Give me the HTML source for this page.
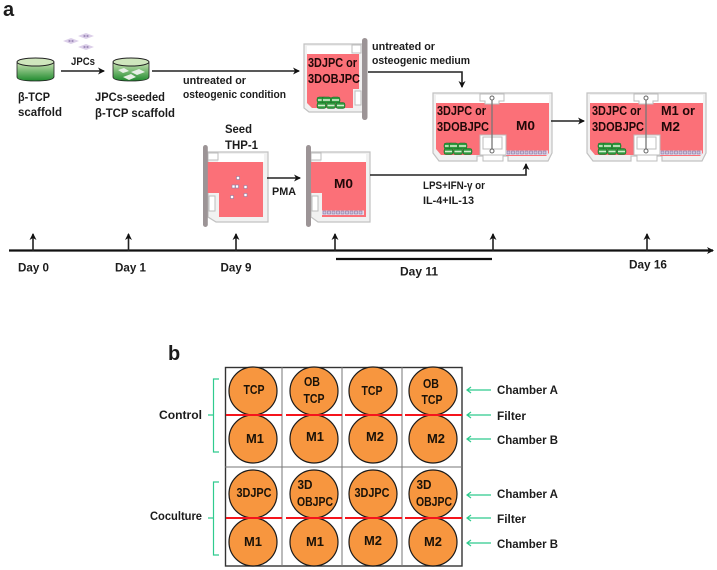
<!DOCTYPE html>
<html><head><meta charset="utf-8"><style>
html,body{margin:0;padding:0;background:#fff}
svg{display:block}
text{font-family:"Liberation Sans",sans-serif;font-weight:700;fill:#1c1c1c;font-size:11px}
.v{font-size:13px;fill:#200808}
.c{font-size:12.5px;text-anchor:middle;fill:#1a1208}
.l{fill:none;stroke:#222;stroke-width:1.6}
.w{fill:#f1f1f1;stroke:#c2c2c2;stroke-width:1.2}
.x{fill:#fff;stroke:#bdbdbd;stroke-width:1}
.p{fill:#fb7078}
.b{fill:#9c9496}
.g{stroke:#2fcb8e;stroke-width:1.2;fill:none}
</style></head><body>
<svg width="717" height="570" viewBox="0 0 717 570" xmlns="http://www.w3.org/2000/svg">
<defs>
<linearGradient id="gr" x1="0" y1="0" x2="0" y2="1"><stop offset="0" stop-color="#c3e0ae"/><stop offset="1" stop-color="#1f8a2e"/></linearGradient>
<marker id="ah" markerWidth="8" markerHeight="8" refX="6" refY="3.5" orient="auto" markerUnits="userSpaceOnUse"><path d="M0 0L7 3.5L0 7L2 3.5Z" fill="#111"/></marker>
<g id="cell"><path d="M0 3L8 0L16 3L8 6Z" fill="#dccfe9"/><circle cx="6.500" cy="3" r="1.100" fill="#a18fbb"/><circle cx="9.500" cy="3" r="1.100" fill="#a18fbb"/></g>
<g id="stack">
<g id="sc"><rect x="0" y="0" width="9" height="6" rx="2" fill="#2e9a3e" stroke="#176b25" stroke-width=".5"/><rect x="1" y="2.200" width="7" height="1.600" fill="#d5ecce"/></g>
<use href="#sc" x="5"/><use href="#sc" x="14"/><use href="#sc" x="0" y="5.500"/><use href="#sc" x="9.500" y="5.500"/><use href="#sc" x="19" y="5.500"/>
</g>
<g id="mrow"><rect x="-1" y="-.5" width="42" height="4.500" fill="#e6dcea"/><g fill="#cfc3de" stroke="#75638f" stroke-width=".5"><rect x="0" y="0" width="3" height="3"/><rect x="4.500" y="0" width="3" height="3"/><rect x="9" y="0" width="3" height="3"/><rect x="13.500" y="0" width="3" height="3"/><rect x="18" y="0" width="3" height="3"/><rect x="22.500" y="0" width="3" height="3"/><rect x="27" y="0" width="3" height="3"/><rect x="31.500" y="0" width="3" height="3"/><rect x="36" y="0" width="3" height="3"/></g></g>
<g id="dual">
<path class="w" d="M0 0H119V60L115 68H75V63H44V68H6L0 60Z"/>
<rect x="3" y="2" width="113" height="8" fill="#fff"/>
<path class="p" d="M3 10H116V60L113 63H73V42H47V62H8L3 56Z"/>
<rect x="47" y="42" width="26" height="20" class="x"/>
<rect x="50" y="44" width="19" height="12" class="x"/>
<path class="x" d="M47 1H71V8H66V11H52V8H47Z"/>
<path class="x" d="M50 62H70V68H50Z"/>
<line x1="59" y1="5" x2="59" y2="58" stroke="#777" stroke-width="1.300"/>
<circle cx="59" cy="5" r="2" fill="#fff" stroke="#666"/><circle cx="59" cy="58" r="2" fill="#fff" stroke="#666"/>
</g>
</defs>

<text x="3" y="16" style="font-size:20px">a</text>

<use href="#cell" x="63" y="38"/><use href="#cell" x="78" y="33"/><use href="#cell" x="78" y="44"/>
<text x="71" y="65" textLength="24" lengthAdjust="spacingAndGlyphs">JPCs</text>

<path d="M17 63V77Q17 81 35 81T54 77V63Z" fill="url(#gr)" stroke="#222" stroke-width=".8"/>
<ellipse cx="35.500" cy="62" rx="18.500" ry="4" fill="#cfe6bd" stroke="#222" stroke-width="1"/>
<path d="M113 63V77Q113 81 131 81T149 77V63Z" fill="url(#gr)" stroke="#222" stroke-width=".8"/>
<ellipse cx="131" cy="62" rx="18" ry="4" fill="#cfe6bd" stroke="#222" stroke-width="1"/>
<path d="M118 70L124 68L129 71L123 73ZM131 72L139 69L145 72L137 75ZM123 77L131 74L136 77L129 80Z" fill="#e6efe6"/>

<text x="18" y="101" textLength="32" lengthAdjust="spacingAndGlyphs" style="font-size:11.500px">β-TCP</text>
<text x="18" y="116" textLength="44" lengthAdjust="spacingAndGlyphs" style="font-size:11.500px">scaffold</text>
<text x="95" y="101" textLength="70" lengthAdjust="spacingAndGlyphs" style="font-size:11.500px">JPCs-seeded</text>
<text x="95" y="117" textLength="80" lengthAdjust="spacingAndGlyphs" style="font-size:11.500px">β-TCP scaffold</text>

<line x1="61" y1="71" x2="104" y2="71" class="l" marker-end="url(#ah)"/>
<line x1="152" y1="71" x2="299" y2="71" class="l" marker-end="url(#ah)"/>
<text x="183" y="84" textLength="63" lengthAdjust="spacingAndGlyphs">untreated or</text>
<text x="183" y="98" textLength="103" lengthAdjust="spacingAndGlyphs">osteogenic condition</text>

<!-- 3DJPC vessel -->
<path class="w" d="M304 44H363V112H309L304 108Z"/>
<rect x="307" y="46" width="52" height="8" fill="#fff"/>
<path class="p" d="M307 54H359V89H353V108H312L307 103Z"/>
<rect x="355" y="91" width="6" height="14" class="x"/>
<rect x="352" y="45" width="9" height="8" class="x"/>
<rect x="362" y="38" width="5.500" height="82" rx="2.700" class="b"/>
<text x="308" y="67" class="v" textLength="49" lengthAdjust="spacingAndGlyphs">3DJPC or</text>
<text x="308" y="83" class="v" textLength="52" lengthAdjust="spacingAndGlyphs">3DOBJPC</text>
<use href="#stack" x="317" y="97"/>

<text x="372" y="50" textLength="63" lengthAdjust="spacingAndGlyphs">untreated or</text>
<text x="372" y="64" textLength="98" lengthAdjust="spacingAndGlyphs">osteogenic medium</text>
<path d="M368 72H462V87" class="l" marker-end="url(#ah)"/>

<!-- Seed vessel -->
<text x="225" y="133" textLength="27" lengthAdjust="spacingAndGlyphs" style="font-size:11.500px">Seed</text>
<text x="225" y="149" textLength="33" lengthAdjust="spacingAndGlyphs" style="font-size:11.500px">THP-1</text>
<path class="w" d="M208 152H268V222H216L208 217Z"/>
<rect x="218" y="154" width="46" height="8" fill="#fff"/>
<path class="p" d="M207 162H263V217H219V193H207Z"/>
<rect x="209" y="196" width="6" height="15" class="x"/>
<rect x="208" y="153" width="10" height="7" class="x"/>
<rect x="203" y="145" width="4.800" height="82" rx="2.400" class="b"/>
<g fill="#fff" stroke="#8d7da3" stroke-width=".6"><rect x="236.500" y="176.500" width="3" height="3"/><rect x="232" y="185" width="3" height="3"/><rect x="235.500" y="185" width="3" height="3"/><rect x="244" y="185.500" width="3" height="3"/><rect x="230.500" y="195.500" width="3" height="3"/><rect x="244" y="193.500" width="3" height="3"/></g>
<line x1="267" y1="178" x2="300" y2="178" class="l" marker-end="url(#ah)"/>
<text x="272" y="195" textLength="24" lengthAdjust="spacingAndGlyphs">PMA</text>

<!-- M0 vessel -->
<path class="w" d="M311 152H370V222H318L311 217Z"/>
<rect x="321" y="154" width="45" height="8" fill="#fff"/>
<path class="p" d="M311 162H366V217H322V193H311Z"/>
<rect x="312" y="196" width="6" height="15" class="x"/>
<rect x="311" y="153" width="10" height="7" class="x"/>
<rect x="306" y="145" width="5" height="82" rx="2.500" class="b"/>
<use href="#mrow" x="323" y="211"/>
<text x="334" y="188" class="v" textLength="19" lengthAdjust="spacingAndGlyphs">M0</text>
<path d="M370 175H526V164" class="l" marker-end="url(#ah)"/>
<text x="423" y="189" textLength="62" lengthAdjust="spacingAndGlyphs">LPS+IFN-γ or</text>
<text x="423" y="204" textLength="51" lengthAdjust="spacingAndGlyphs">IL-4+IL-13</text>

<!-- dual vessels -->
<use href="#dual" x="433" y="93"/>
<text x="437" y="115" class="v" textLength="49" lengthAdjust="spacingAndGlyphs">3DJPC or</text>
<text x="437" y="131" class="v" textLength="52" lengthAdjust="spacingAndGlyphs">3DOBJPC</text>
<text x="516" y="130" class="v" textLength="19" lengthAdjust="spacingAndGlyphs">M0</text>
<use href="#stack" x="444" y="143"/>
<use href="#mrow" x="507" y="151"/>
<line x1="551" y1="121" x2="584" y2="121" class="l" marker-end="url(#ah)"/>

<use href="#dual" x="587" y="93"/>
<text x="592" y="115" class="v" textLength="49" lengthAdjust="spacingAndGlyphs">3DJPC or</text>
<text x="592" y="131" class="v" textLength="52" lengthAdjust="spacingAndGlyphs">3DOBJPC</text>
<text x="661" y="115" class="v" textLength="34" lengthAdjust="spacingAndGlyphs">M1 or</text>
<text x="661" y="131" class="v" textLength="19" lengthAdjust="spacingAndGlyphs">M2</text>
<use href="#stack" x="598" y="143"/>
<use href="#mrow" x="661" y="151"/>

<!-- timeline -->
<line x1="9" y1="250.500" x2="713" y2="250.500" stroke="#111" stroke-width="2.200" marker-end="url(#ah)"/>
<line x1="33" y1="251" x2="33" y2="234" class="l" marker-end="url(#ah)"/>
<line x1="128.500" y1="251" x2="128.500" y2="234" class="l" marker-end="url(#ah)"/>
<line x1="236" y1="251" x2="236" y2="234" class="l" marker-end="url(#ah)"/>
<line x1="335" y1="251" x2="335" y2="234" class="l" marker-end="url(#ah)"/>
<line x1="493" y1="251" x2="493" y2="234" class="l" marker-end="url(#ah)"/>
<line x1="647" y1="251" x2="647" y2="234" class="l" marker-end="url(#ah)"/>
<line x1="336" y1="259" x2="492" y2="259" stroke="#111" stroke-width="2.200"/>
<text x="18" y="271.500" textLength="31" lengthAdjust="spacingAndGlyphs" style="font-size:11.500px">Day 0</text>
<text x="115" y="271.500" textLength="31" lengthAdjust="spacingAndGlyphs" style="font-size:11.500px">Day 1</text>
<text x="220.500" y="271.500" textLength="31" lengthAdjust="spacingAndGlyphs" style="font-size:11.500px">Day 9</text>
<text x="400" y="275.500" textLength="38" lengthAdjust="spacingAndGlyphs" style="font-size:11.500px">Day 11</text>
<text x="629" y="268.500" textLength="38" lengthAdjust="spacingAndGlyphs" style="font-size:11.500px">Day 16</text>

<!-- b -->
<text x="168" y="360" style="font-size:20px">b</text>
<rect x="225.500" y="367.500" width="236.500" height="198.500" fill="#fff" stroke="#333" stroke-width="1.400"/>
<path d="M282 367V566M342 367V566M402 367V566M225 467H462" stroke="#777" stroke-width="1" fill="none"/>

<g fill="#f7963f" stroke="#1a1a1a" stroke-width="1.200">
<circle cx="253" cy="391" r="24"/><circle cx="314" cy="391" r="24"/><circle cx="373" cy="391" r="24"/><circle cx="433" cy="391" r="24"/>
<circle cx="253" cy="439" r="24"/><circle cx="314" cy="439" r="24"/><circle cx="373" cy="439" r="24"/><circle cx="433" cy="439" r="24"/>
<circle cx="253" cy="494" r="24"/><circle cx="314" cy="494" r="24"/><circle cx="373" cy="494" r="24"/><circle cx="433" cy="494" r="24"/>
<circle cx="253" cy="542" r="24"/><circle cx="314" cy="542" r="24"/><circle cx="373" cy="542" r="24"/><circle cx="433" cy="542" r="24"/>
</g>
<g stroke="#f5141c" stroke-width="2">
<path d="M226 415H282M286 415H342M345 415H402M405 415H462M226 518H282M286 518H342M345 518H402M405 518H462"/>
</g>

<text x="254" y="394" class="c" textLength="21" lengthAdjust="spacingAndGlyphs">TCP</text>
<text x="312" y="386" class="c" textLength="16" lengthAdjust="spacingAndGlyphs">OB</text><text x="314" y="403" class="c" textLength="21" lengthAdjust="spacingAndGlyphs">TCP</text>
<text x="372" y="395" class="c" textLength="21" lengthAdjust="spacingAndGlyphs">TCP</text>
<text x="431" y="388" class="c" textLength="16" lengthAdjust="spacingAndGlyphs">OB</text><text x="432" y="404" class="c" textLength="21" lengthAdjust="spacingAndGlyphs">TCP</text>
<text x="255" y="443" class="c" textLength="18" lengthAdjust="spacingAndGlyphs">M1</text><text x="315" y="441" class="c" textLength="18" lengthAdjust="spacingAndGlyphs">M1</text><text x="375" y="441" class="c" textLength="18" lengthAdjust="spacingAndGlyphs">M2</text><text x="436" y="443" class="c" textLength="18" lengthAdjust="spacingAndGlyphs">M2</text>
<text x="254" y="497" class="c" textLength="35" lengthAdjust="spacingAndGlyphs">3DJPC</text>
<text x="305" y="489" class="c" textLength="15" lengthAdjust="spacingAndGlyphs">3D</text><text x="315" y="506" class="c" textLength="36" lengthAdjust="spacingAndGlyphs">OBJPC</text>
<text x="372" y="497" class="c" textLength="35" lengthAdjust="spacingAndGlyphs">3DJPC</text>
<text x="424" y="489" class="c" textLength="15" lengthAdjust="spacingAndGlyphs">3D</text><text x="434" y="506" class="c" textLength="36" lengthAdjust="spacingAndGlyphs">OBJPC</text>
<text x="253" y="546" class="c" textLength="18" lengthAdjust="spacingAndGlyphs">M1</text><text x="315" y="546" class="c" textLength="18" lengthAdjust="spacingAndGlyphs">M1</text><text x="373" y="545" class="c" textLength="18" lengthAdjust="spacingAndGlyphs">M2</text><text x="433" y="546" class="c" textLength="18" lengthAdjust="spacingAndGlyphs">M2</text>

<path class="g" d="M219 379H213.500V452H219M208 415H213.500M219 482H213.500V555H219M208 518H213.500"/>
<text x="159" y="419" textLength="43" lengthAdjust="spacingAndGlyphs" style="font-size:11.500px">Control</text>
<text x="150" y="520" textLength="52" lengthAdjust="spacingAndGlyphs" style="font-size:11.500px">Coculture</text>

<g class="g" stroke-width="1.400">
<path d="M491 390H467M471 387L467 390L471 393"/>
<path d="M491 415H467M471 412L467 415L471 418"/>
<path d="M491 439H467M471 436L467 439L471 442"/>
<path d="M491 495H467M471 492L467 495L471 498"/>
<path d="M491 518H467M471 515L467 518L471 521"/>
<path d="M491 543H467M471 540L467 543L471 546"/>
</g>
<text x="497" y="394" textLength="61" lengthAdjust="spacingAndGlyphs" style="font-size:11.500px">Chamber A</text>
<text x="497" y="420" textLength="29" lengthAdjust="spacingAndGlyphs" style="font-size:11.500px">Filter</text>
<text x="497" y="444" textLength="61" lengthAdjust="spacingAndGlyphs" style="font-size:11.500px">Chamber B</text>
<text x="497" y="498" textLength="61" lengthAdjust="spacingAndGlyphs" style="font-size:11.500px">Chamber A</text>
<text x="497" y="523" textLength="29" lengthAdjust="spacingAndGlyphs" style="font-size:11.500px">Filter</text>
<text x="497" y="548" textLength="61" lengthAdjust="spacingAndGlyphs" style="font-size:11.500px">Chamber B</text>
</svg>
</body></html>
